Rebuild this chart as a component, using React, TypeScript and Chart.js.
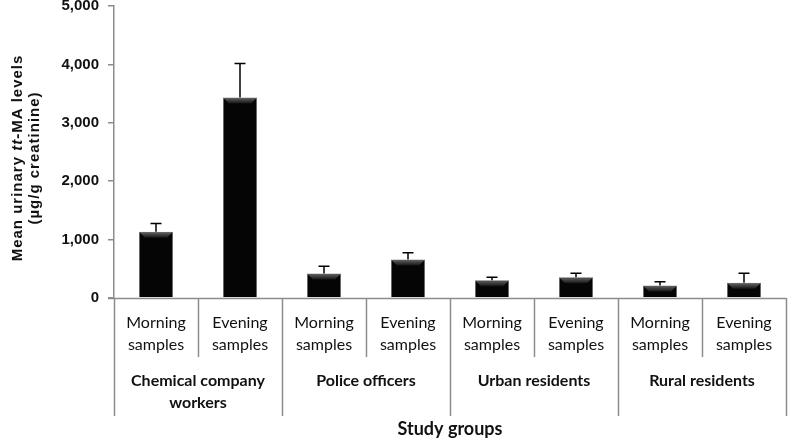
import React, { useEffect, useRef } from 'react';
import { Chart, registerables } from 'chart.js';

Chart.register(...registerables);

const categories = [
  'Chemical company workers – Morning samples',
  'Chemical company workers – Evening samples',
  'Police officers – Morning samples',
  'Police officers – Evening samples',
  'Urban residents – Morning samples',
  'Urban residents – Evening samples',
  'Rural residents – Morning samples',
  'Rural residents – Evening samples',
];
const sampleLabels = [
  ['Morning', 'samples'], ['Evening', 'samples'],
  ['Morning', 'samples'], ['Evening', 'samples'],
  ['Morning', 'samples'], ['Evening', 'samples'],
  ['Morning', 'samples'], ['Evening', 'samples'],
];
const groupLabels = [
  ['Chemical company', 'workers'],
  ['Police officers'],
  ['Urban residents'],
  ['Rural residents'],
];
const means = [1135, 3435, 420, 660, 305, 355, 215, 260];
const errors = [140, 580, 125, 115, 50, 70, 63, 165];
const yMax = 5000;
const yStep = 1000;
const yTitleParts = [
  { t: 'Mean urinary ', italic: false },
  { t: 'tt', italic: true },
  { t: '-MA levels', italic: false },
];
const yTitleLine2 = '(µg/g creatinine)';
const xTitle = 'Study groups';

const AXIS_COLOR = '#8c8c8c';

const overlayPlugin = {
  id: 'overlay',
  afterDatasetsDraw(chart: any) {
    const ctx = chart.ctx;
    const meta = chart.getDatasetMeta(0);
    const yScale = chart.scales.y;
    ctx.save();
    meta.data.forEach((bar: any) => {
      const half = bar.width / 2;
      const l = bar.x - half + 1;
      const r = bar.x + half - 1;
      const t = bar.y + 1;
      const h = 5;
      const g = ctx.createLinearGradient(0, t, 0, t + h);
      g.addColorStop(0, '#5a5a5a');
      g.addColorStop(1, '#151515');
      ctx.fillStyle = g;
      ctx.beginPath();
      ctx.moveTo(l, t);
      ctx.lineTo(r, t);
      ctx.lineTo(r - h, t + h);
      ctx.lineTo(l + h, t + h);
      ctx.closePath();
      ctx.fill();
    });
    ctx.strokeStyle = '#000';
    ctx.lineWidth = 1.5;
    meta.data.forEach((bar: any, i: number) => {
      const x = bar.x;
      const yTop = bar.y;
      const yErr = yScale.getPixelForValue(means[i] + errors[i]);
      ctx.beginPath();
      ctx.moveTo(x, yTop);
      ctx.lineTo(x, yErr);
      ctx.moveTo(x - 5.5, yErr);
      ctx.lineTo(x + 5.5, yErr);
      ctx.stroke();
    });
    ctx.restore();
  },
  afterDraw(chart: any) {
    const ctx = chart.ctx;
    const area = chart.chartArea;
    const xScale = chart.scales.x;
    const n = categories.length;
    const w = (area.right - area.left) / n;
    const b = area.bottom;
    ctx.save();
    ctx.strokeStyle = AXIS_COLOR;
    ctx.lineWidth = 1.5;
    ctx.beginPath();
    ctx.moveTo(area.left - 6, b + 0.5);
    ctx.lineTo(area.right, b + 0.5);
    ctx.stroke();
    for (let i = 0; i <= n; i++) {
      const x = Math.round(area.left + i * w) + 0.5;
      const len = i % 2 === 0 ? 118 : 59;
      ctx.beginPath();
      ctx.moveTo(x, b);
      ctx.lineTo(x, b + len);
      ctx.stroke();
    }
    ctx.fillStyle = '#111';
    ctx.textAlign = 'center';
    ctx.textBaseline = 'middle';
    ctx.font = '16px Lato';
    sampleLabels.forEach((lines, i) => {
      const x = xScale.getPixelForValue(i);
      lines.forEach((l, j) => ctx.fillText(l, x, b + 25 + j * 22));
    });
    ctx.font = 'bold 16px Lato';
    groupLabels.forEach((lines, g) => {
      const x = area.left + (g * 2 + 1) * w;
      lines.forEach((l, j) => ctx.fillText(l, x, b + 83 + j * 22));
    });
    ctx.font = 'bold 18px Lato';
    ctx.fillText(xTitle, (area.left + area.right) / 2, b + 131);
    // y title
    ctx.translate(18, 158);
    ctx.rotate(-Math.PI / 2);
    (ctx as any).letterSpacing = '1px';
    const fontFor = (it: boolean) => `${it ? 'italic ' : ''}bold 15px "Liberation Sans"`;
    let total = 0;
    yTitleParts.forEach((p) => {
      ctx.font = fontFor(p.italic);
      total += ctx.measureText(p.t).width;
    });
    let cx = -total / 2;
    ctx.textAlign = 'left';
    yTitleParts.forEach((p) => {
      ctx.font = fontFor(p.italic);
      ctx.fillText(p.t, cx, 0);
      cx += ctx.measureText(p.t).width;
    });
    ctx.font = fontFor(false);
    ctx.textAlign = 'center';
    ctx.fillText(yTitleLine2, 0, 17);
    ctx.restore();
  },
};

export default function App() {
  const ref = useRef<HTMLCanvasElement>(null);
  useEffect(() => {
    if (!ref.current) return;
    const chart = new Chart(ref.current, {
      type: 'bar',
      data: {
        labels: categories,
        datasets: [
          {
            data: means,
            backgroundColor: '#050505',
            borderColor: '#6a6a6a',
            borderWidth: 1,
            barPercentage: 0.405,
            categoryPercentage: 1,
          },
        ],
      },
      options: {
        animation: false,
        responsive: false,
        maintainAspectRatio: false,
        layout: { padding: { top: 6, right: 3, left: 0, bottom: 0 } },
        plugins: { legend: { display: false }, tooltip: { enabled: false } },
        scales: {
          x: {
            grid: { display: false },
            border: { display: false },
            ticks: { display: false },
            afterFit: (s: any) => {
              s.height = 145;
            },
          },
          y: {
            min: 0,
            max: yMax,
            ticks: {
              stepSize: yStep,
              color: '#111',
              padding: 9,
              font: { family: 'Liberation Sans', weight: 'bold', size: 15 },
              callback: (v: any) => Number(v).toLocaleString('en-US'),
            },
            grid: { drawOnChartArea: false, drawTicks: true, tickLength: 6, color: AXIS_COLOR, lineWidth: 1.5 },
            border: { display: true, color: AXIS_COLOR, width: 1.5 },
            afterFit: (s: any) => {
              s.width = 114;
              s.paddingTop = 0;
              s.paddingBottom = 0;
            },
          },
        },
      },
      plugins: [overlayPlugin],
    });
    return () => chart.destroy();
  }, []);
  return (
    <div style={{ position: 'fixed', left: 0, top: 0, width: 789, height: 443, background: '#fff' }}>
      <canvas ref={ref} width={789} height={443} style={{ display: 'block' }} />
    </div>
  );
}
